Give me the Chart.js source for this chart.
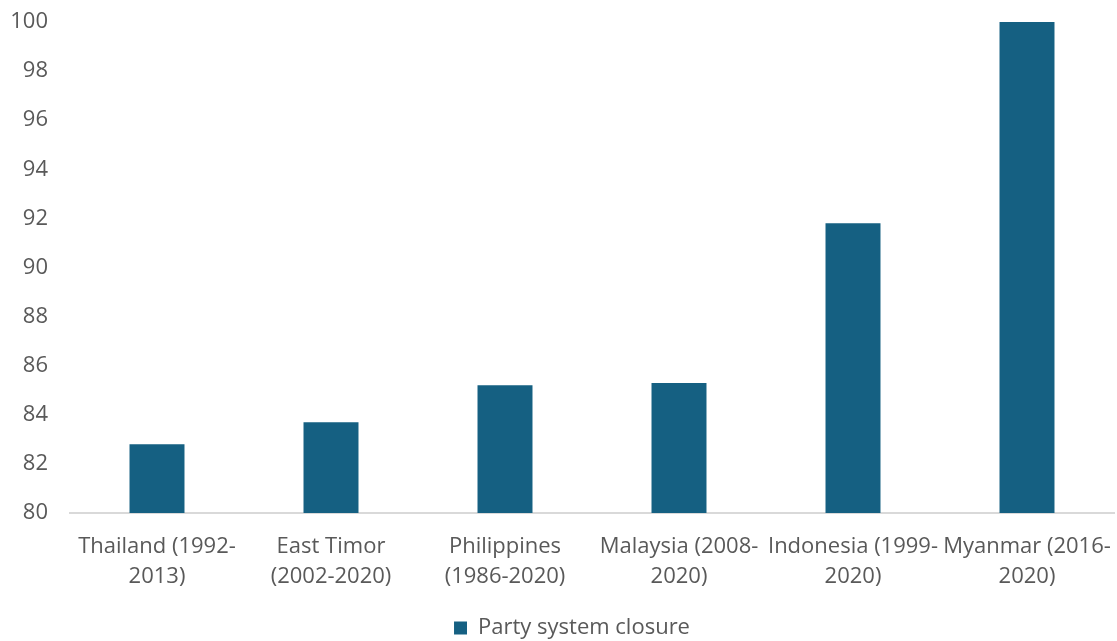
<!DOCTYPE html>
<html>
<head>
<meta charset="utf-8">
<script src="https://cdn.jsdelivr.net/npm/chart.js@4"></script>
<style>
html,body{margin:0;padding:0;background:#fff;}
#wrap{width:1117px;height:641px;position:relative;}
</style>
</head>
<body>
<div id="wrap"><canvas id="c" width="1117" height="641"></canvas></div>
<script>
const categories = [
  ["Thailand (1992-", "2013)"],
  ["East Timor", "(2002-2020)"],
  ["Philippines", "(1986-2020)"],
  ["Malaysia (2008-", "2020)"],
  ["Indonesia (1999-", "2020)"],
  ["Myanmar (2016-", "2020)"]
];
const seriesName = "Party system closure";
const values = [82.8, 83.7, 85.2, 85.3, 91.8, 100];
const yMin = 80, yMax = 100, yStep = 2;

const FONT = "'Open Sans', 'Noto Sans', sans-serif";
const TXT = "#595959";

const legendShift = {
  id: 'legendShift',
  afterLayout(chart) {
    const lg = chart.legend;
    if (lg) { lg.left += 15; lg.right += 15; }
  }
};

new Chart(document.getElementById('c'), {
  type: 'bar',
  data: {
    labels: categories,
    datasets: [{
      label: seriesName,
      data: values,
      backgroundColor: '#156082',
      borderWidth: 0,
      categoryPercentage: 1.0,
      barPercentage: 0.316
    }]
  },
  plugins: [legendShift],
  options: {
    responsive: false,
    animation: false,
    devicePixelRatio: 1,
    layout: { padding: { top: 22, right: 3, bottom: -8, left: 0 } },
    plugins: {
      legend: {
        position: 'bottom',
        labels: {
          color: TXT,
          font: { family: FONT, size: 22, lineHeight: 1.0 },
          boxWidth: 13, boxHeight: 13,
          padding: 2
        }
      },
      tooltip: { enabled: false }
    },
    scales: {
      x: {
        grid: { display: false },
        border: { display: true, color: '#d9d9d9', width: 2 },
        ticks: {
          color: TXT,
          font: { family: FONT, size: 22, lineHeight: 1.36 },
          padding: 11,
          maxRotation: 0,
          autoSkip: false
        },
        afterFit: (s) => { s.height = 102; s.paddingLeft = 0; s.paddingRight = 0; }
      },
      y: {
        min: yMin, max: yMax,
        grid: { display: false },
        border: { display: false },
        ticks: {
          stepSize: yStep,
          color: TXT,
          font: { family: FONT, size: 22 },
          padding: 14
        },
        afterFit: (s) => { s.width = 70; s.paddingTop = 0; s.paddingBottom = 0; }
      }
    }
  }
});
</script>
</body>
</html>
